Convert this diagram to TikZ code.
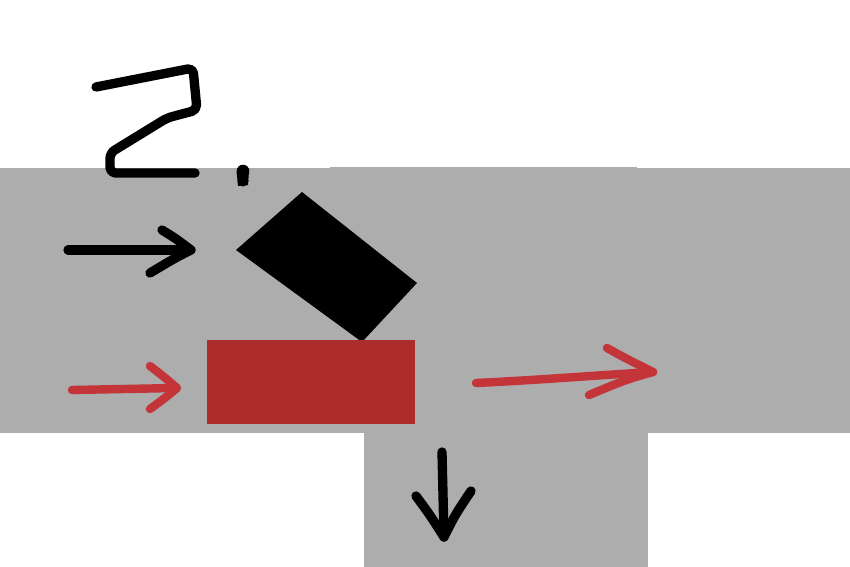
\documentclass[tikz,border=0pt]{standalone}
\definecolor{bandgray}{HTML}{ADADAD}
\definecolor{boxred}{HTML}{AD2D2D}
\definecolor{penred}{HTML}{C4353A}
\begin{document}
\begin{tikzpicture}[x=0.75pt,y=-0.75pt,
  pen/.style={line width=7pt,line cap=round,line join=round},
  blackpen/.style={pen,black},
  redpen/.style={pen,penred,line width=6.3pt}]
\useasboundingbox (0,0) rectangle (850,567);
\fill[white] (0,0) rectangle (850,567);
% gray background
\fill[bandgray] (0,168) rectangle (850,433);
\fill[bandgray] (330,166.5) rectangle (637,170);
\fill[bandgray] (364,433) rectangle (648,567);
% handwritten "2."
\draw[blackpen,rounded corners=4pt] (96,87) -- (193,68) -- (197,110) -- (167,118) -- (110,153) -- (110,173) -- (195,173);
\fill[black] (236.5,171) -- (249,171) -- (248,185) -- (238,186) -- cycle;
\fill[black] (243,171) circle [radius=6.3];
\fill[black] (243,181) circle [radius=5.5];
% tilted black block
\fill[black] (236,250) -- (302,192) -- (417,283) -- (362,342) -- cycle;
% red block
\fill[boxred] (207,340) rectangle (415,424);
% black arrow left
\draw[blackpen] (68,250) -- (190,250);
\draw[blackpen] (162,230) .. controls (175,238) .. (191,250) .. controls (175,258) .. (150,273);
% red arrow left
\draw[redpen] (72,390) -- (176,388);
\draw[redpen] (150,366) .. controls (163,376) .. (177,388) .. controls (165,398) .. (150,409);
% red arrow right
\draw[redpen] (476,383) .. controls (540,380) and (600,375) .. (653,372);
\draw[redpen] (607,348) .. controls (625,358) .. (653,372) .. controls (625,380) .. (589,395);
% down arrow
\draw[blackpen] (442,452) -- (444,537);
\draw[blackpen] (416,496) .. controls (430,515) .. (444,537) .. controls (455,515) .. (471,491);
\end{tikzpicture}
\end{document}
